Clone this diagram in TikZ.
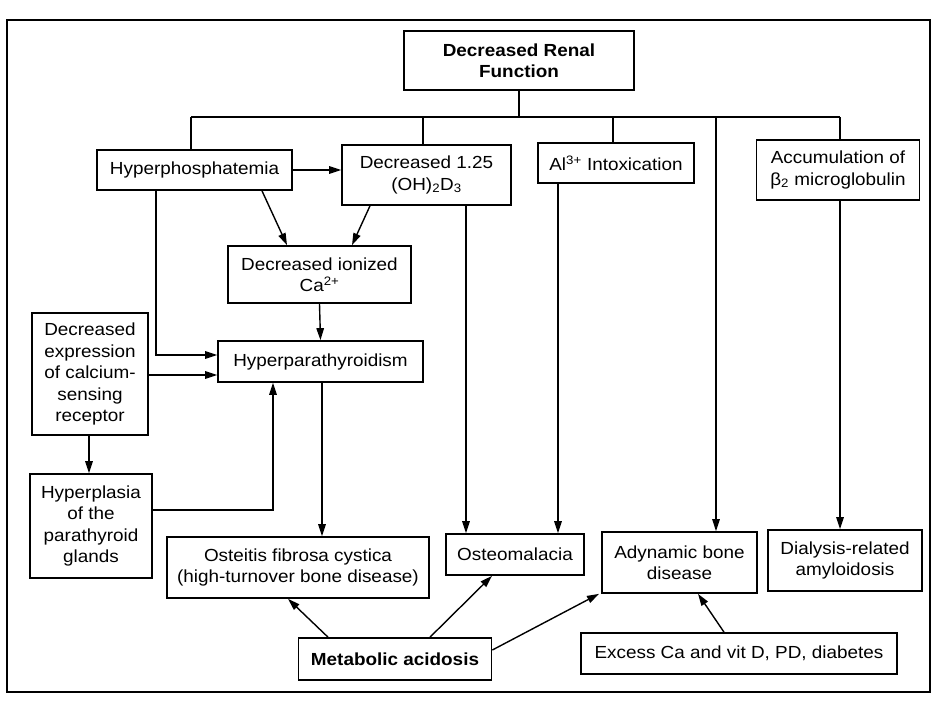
\documentclass[tikz,border=0pt]{standalone}
\usepackage{fontspec}
\setmainfont{Liberation Sans}[FakeStretch=1.08]
\usetikzlibrary{arrows.meta}
\begin{document}
\begin{tikzpicture}[x=1pt,y=-1pt,
  box/.style={draw, line width=1.7pt, inner sep=0pt, align=center,
    font=\fontsize{17.5}{21.5}\selectfont},
  sz/.style 2 args={minimum width=#1pt, minimum height=#2pt},
  ln/.style={line width=1.4pt},
  arr/.style={line width=1.4pt, -{Stealth[length=12pt,width=7.5pt,inset=0pt]}}]
\useasboundingbox (0,0) rectangle (935,704);
\draw[line width=1.2pt] (7,20) rectangle (930,692);

% nodes
\node[box, sz={230}{59}, font=\fontsize{17.5}{21.5}\selectfont\bfseries] (renal) at (519,60.5) {Decreased Renal\\Function};
\node[box, sz={195}{40}] (hyperphos) at (194.5,170) {Hyperphosphatemia};
\node[box, sz={169}{60}] (d125) at (426.5,175) {Decreased 1.25\\(OH)\textsubscript{2}D\textsubscript{3}};
\node[box, sz={156}{40}] (al) at (616,163) {Al\textsuperscript{3+} Intoxication};
\node[box, sz={163}{60}] (accum) at (838,170) {Accumulation of\\β\textsubscript{2} microglobulin};
\node[box, sz={183}{57}] (ca) at (319.5,274.5) {Decreased ionized\\Ca\textsuperscript{2+}};
\node[box, sz={205}{41}] (hpt) at (320.5,361.5) {Hyperparathyroidism};
\node[box, sz={116}{122}] (dexp) at (90,374) {Decreased\\expression\\of calcium-\\sensing\\receptor};
\node[box, sz={122}{104}] (hyperpl) at (91,526) {Hyperplasia\\of the\\parathyroid\\glands};
\node[box, sz={262}{61}] (osteitis) at (298,567.5) {Osteitis fibrosa cystica\\(high-turnover bone disease)};
\node[box, sz={138}{41}] (osteom) at (515,554.5) {Osteomalacia};
\node[box, sz={155}{61}] (adyn) at (679.5,562.5) {Adynamic bone\\disease};
\node[box, sz={154}{61}] (dial) at (845,560.5) {Dialysis-related\\amyloidosis};
\node[box, sz={193}{42}, font=\fontsize{17.5}{21.5}\selectfont\bfseries] (metab) at (395,659) {Metabolic acidosis};
\node[box, sz={316}{41}] (excess) at (739,653.5) {Excess Ca and vit D, PD, diabetes};

% bus
\coordinate (busL) at (191,117);
\coordinate (busR) at (840,117);
\coordinate (b2) at (423,117);
\coordinate (b3) at (613,117);
\coordinate (b4) at (716,117);
\draw[ln] (renal.south) -- (renal.south |- busL);
\draw[ln] (busL) -- (busR);
\draw[ln] (busL) -- (busL |- hyperphos.north);
\draw[ln] (b2) -- (b2 |- d125.north);
\draw[ln] (b3) -- (b3 |- al.north);
\draw[ln] (busR) -- (busR |- accum.north);
\draw[arr] (b4) -- (b4 |- adyn.north);

% connectors
\draw[arr] (hyperphos.east) -- (d125.west |- hyperphos.east);
\draw[arr] (262,0 |- hyperphos.south) -- (287,0 |- ca.north);
\draw[arr] (370,0 |- d125.south) -- (352,0 |- ca.north);
\draw[arr] (156,0 |- hyperphos.south) |- (hpt.west |- 0,355);
\draw[arr] (466,0 |- d125.south) -- (466,0 |- osteom.north);
\draw[arr] (558,0 |- al.south) -- (558,0 |- osteom.north);
\draw[arr] (840,0 |- accum.south) -- (840,0 |- dial.north);
\draw[arr] (ca.south) -- (hpt.north);
\draw[arr] (dexp.east |- 0,375) -- (hpt.west |- 0,375);
\draw[arr] (89,0 |- dexp.south) -- (89,0 |- hyperpl.north);
\draw[arr] (hyperpl.east |- 0,510) -| (273,0 |- hpt.south);
\draw[arr] (322,0 |- hpt.south) -- (322,0 |- osteitis.north);
\draw[arr] (328,0 |- metab.north) -- (288,0 |- osteitis.south);
\draw[arr] (430,0 |- metab.north) -- (492,0 |- osteom.south);
\draw[arr] (metab.east |- 0,650) -- (599,0 |- adyn.south);
\draw[arr] (724,0 |- excess.north) -- (698,0 |- adyn.south);
\end{tikzpicture}
\end{document}
